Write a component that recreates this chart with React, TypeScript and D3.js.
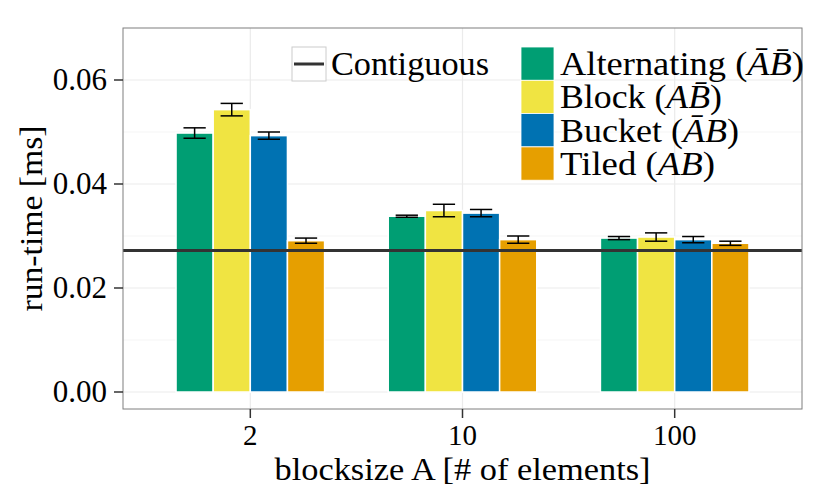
import * as d3 from 'd3';

// blocksize groups on the x axis
const groups = ['2', '10', '100'];
const seriesNames = ['Alternating', 'Block', 'Bucket', 'Tiled'];
const seriesColors = ['#009E73', '#F0E442', '#0072B2', '#E69F00'];
// bar over A / over B in the legend labels
const barOverA = [true, false, true, false];
const barOverB = [true, true, false, false];

// mean run-times [ms], one value per group
const alternating = [0.0498, 0.0338, 0.0296];
const block = [0.0543, 0.0349, 0.0298];
const bucket = [0.0493, 0.0344, 0.0293];
const tiled = [0.0291, 0.0293, 0.0286];
// half-width of the error bars
const alternatingErr = [0.001, 0.0002, 0.0003];
const blockErr = [0.0012, 0.0012, 0.0008];
const bucketErr = [0.0007, 0.0007, 0.0006];
const tiledErr = [0.0005, 0.0007, 0.0004];

const contiguous = 0.0272;

const yTicks = [0, 0.02, 0.04, 0.06];
const yMinor = [0.01, 0.03, 0.05];

const values = [alternating, block, bucket, tiled];
const errors = [alternatingErr, blockErr, bucketErr, tiledErr];

const W = 830;
const H = 498;
const panel = { left: 123, right: 802, top: 28, bottom: 409 };
const FONT = '"Liberation Serif", "DejaVu Serif", serif';
// Times is narrower than Computer Modern, so stretch the long texts a little
const legendTextLen = [244, 162, 179, 155];

export default function App() {
  const x = d3
    .scaleBand<string>()
    .domain(groups)
    .range([panel.left, panel.right])
    .paddingInner(0)
    .paddingOuter(0.1);

  const y = d3.scaleLinear().domain([-0.00327, 0.07]).range([panel.bottom, panel.top]);

  const step = x.step();
  const inner = d3
    .scaleBand<string>()
    .domain(seriesNames)
    .range([-0.35 * step, 0.35 * step]);

  const center = (g: string) => (x(g) as number) + x.bandwidth() / 2;
  const fmt = d3.format('.2f');

  return (
    <svg
      width={W}
      height={H}
      style={{ position: 'absolute', left: 0, top: 0, background: '#fff' }}
      fontFamily={FONT}
    >
      <rect x={0} y={0} width={W} height={H} fill="#fff" />

      {/* grid */}
      {yMinor.map((t) => (
        <line key={'m' + t} x1={panel.left} x2={panel.right} y1={y(t)} y2={y(t)} stroke="#F5F5F5" strokeWidth={1} />
      ))}
      {yTicks.map((t) => (
        <line key={'g' + t} x1={panel.left} x2={panel.right} y1={y(t)} y2={y(t)} stroke="#EBEBEB" strokeWidth={1.2} />
      ))}
      {groups.map((g) => (
        <line key={'v' + g} x1={center(g)} x2={center(g)} y1={panel.top} y2={panel.bottom} stroke="#EBEBEB" strokeWidth={1.2} />
      ))}

      {/* bars */}
      {seriesNames.map((s, si) =>
        groups.map((g, gi) => (
          <rect
            key={s + g}
            x={center(g) + (inner(s) as number)}
            width={inner.bandwidth()}
            y={y(values[si][gi])}
            height={y(0) - y(values[si][gi])}
            fill={seriesColors[si]}
            stroke="#fff"
            strokeWidth={1.5}
          />
        ))
      )}

      {/* error bars */}
      {seriesNames.map((s, si) =>
        groups.map((g, gi) => {
          const cx = center(g) + (inner(s) as number) + inner.bandwidth() / 2;
          const hw = inner.bandwidth() * 0.3;
          const lo = y(values[si][gi] - errors[si][gi]);
          const hi = y(values[si][gi] + errors[si][gi]);
          return (
            <g key={'e' + s + g} stroke="#000" strokeWidth={1.5}>
              <line x1={cx - hw} x2={cx + hw} y1={hi} y2={hi} />
              <line x1={cx - hw} x2={cx + hw} y1={lo} y2={lo} />
              <line x1={cx} x2={cx} y1={hi} y2={lo} />
            </g>
          );
        })
      )}

      {/* contiguous reference */}
      <line x1={panel.left} x2={panel.right} y1={y(contiguous)} y2={y(contiguous)} stroke="#333" strokeWidth={3} />

      {/* panel border */}
      <rect
        x={panel.left}
        y={panel.top}
        width={panel.right - panel.left}
        height={panel.bottom - panel.top}
        fill="none"
        stroke="#7F7F7F"
        strokeWidth={1}
      />

      {/* y axis */}
      {yTicks.map((t) => (
        <g key={'yt' + t}>
          <line x1={panel.left - 9} x2={panel.left} y1={y(t)} y2={y(t)} stroke="#333" strokeWidth={1.5} />
          <text x={107} y={y(t) + 10.5} textAnchor="end" fontSize={31} fill="#000">
            {fmt(t)}
          </text>
        </g>
      ))}

      {/* x axis */}
      {groups.map((g) => (
        <g key={'xt' + g}>
          <line x1={center(g)} x2={center(g)} y1={panel.bottom} y2={panel.bottom + 9} stroke="#333" strokeWidth={1.5} />
          <text x={center(g)} y={445} textAnchor="middle" fontSize={29} fill="#000">
            {g}
          </text>
        </g>
      ))}

      <text
        x={(panel.left + panel.right) / 2}
        y={480}
        textAnchor="middle"
        fontSize={31}
        fill="#000"
        textLength={376}
        lengthAdjust="spacingAndGlyphs"
      >
        blocksize A [# of elements]
      </text>
      <text
        transform={`translate(42, ${(panel.top + panel.bottom) / 2}) rotate(-90)`}
        textAnchor="middle"
        fontSize={32}
        fill="#000"
        textLength={186}
        lengthAdjust="spacingAndGlyphs"
      >
        run-time [ms]
      </text>

      {/* legend: line */}
      <rect x={292} y={47} width={34} height={34} fill="#fff" stroke="#CCCCCC" strokeWidth={1} />
      <line x1={294} x2={324} y1={64} y2={64} stroke="#333" strokeWidth={3} />
      <text x={331} y={75} fontSize={33} fill="#000" textLength={158} lengthAdjust="spacingAndGlyphs">
        Contiguous
      </text>

      {/* legend: fills */}
      {seriesNames.map((s, i) => (
        <g key={'lg' + s}>
          <rect x={521} y={47 + i * 33.3} width={33} height={33.3} fill={seriesColors[i]} stroke="#fff" strokeWidth={0.8} />
          <text
            x={560}
            y={75 + i * 33.3}
            fontSize={33}
            fill="#000"
            textLength={legendTextLen[i]}
            lengthAdjust="spacingAndGlyphs"
          >
            {s} (
            <tspan fontStyle="italic">{barOverA[i] ? 'A\u0304' : 'A'}</tspan>
            <tspan fontStyle="italic">{barOverB[i] ? 'B\u0304' : 'B'}</tspan>)
          </text>
        </g>
      ))}
    </svg>
  );
}
